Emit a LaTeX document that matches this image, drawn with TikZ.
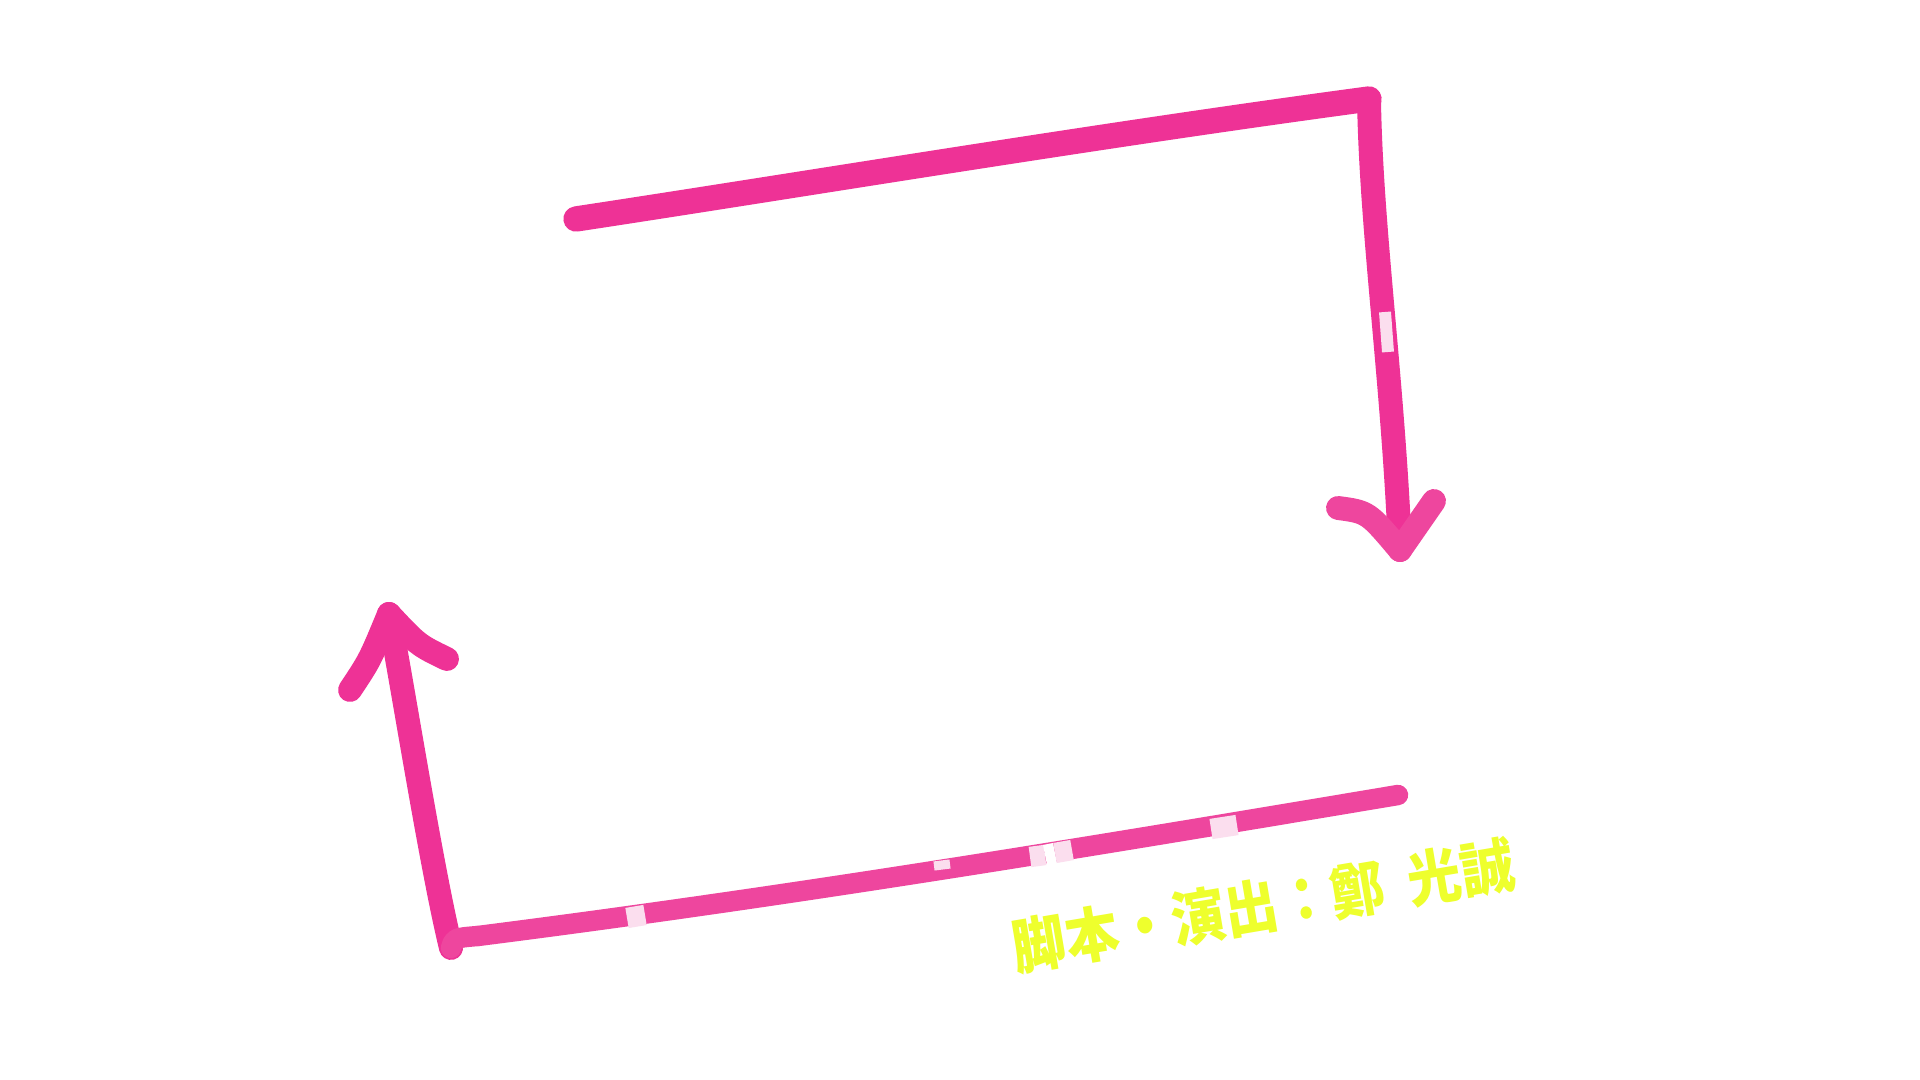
\documentclass[tikz,border=0pt]{standalone}
\usepackage{fontspec}
\newfontfamily\cjk{Noto Sans CJK JP}
\definecolor{brushpink}{RGB}{238,50,150}
\definecolor{lightbrush}{RGB}{238,70,158}
\definecolor{patchpink}{RGB}{251,222,238}
\definecolor{credityellow}{RGB}{238,255,45}
\tikzset{
  brush/.style={draw=brushpink, line width=6.8pt, line cap=round, line join=round},
  thinbrush/.style={draw=lightbrush, line width=5.8pt, line cap=round, line join=round},
  patch/.style={draw=patchpink, line width=5.8pt, line cap=butt},
  credit/.style={text=credityellow, font=\cjk\bfseries\fontsize{17}{17}\selectfont, inner sep=0pt}
}
\begin{document}
\begin{tikzpicture}[x=0.01cm, y=-0.01cm]
\useasboundingbox[fill=white] (0,0) rectangle (1920,1080);

% the corners and ends
\coordinate (topstart) at (576,219);
\coordinate (topcorner) at (1369,99);
\coordinate (downtip) at (1400,550);
\coordinate (uptip) at (389,614);
\coordinate (lowcorner) at (451,948);
\coordinate (lowend) at (1398,795);

% the upper stroke
\draw[brush, line width=7.2pt] (topstart) .. controls (800,185) and (1100,135) .. (topcorner);
\draw[brush] (topcorner) .. controls (1371,230) and (1393,380) .. (downtip);
% the arrow head going down
\draw[brush, draw=lightbrush] (1338,508) .. controls (1368,512) .. (downtip);
\draw[brush, draw=lightbrush] (downtip) -- (1434,501);

% the lower stroke
\draw[brush] (uptip) .. controls (405,700) and (432,870) .. (lowcorner);
\draw[thinbrush] (lowcorner) .. controls (454,938) .. (478,936);
\draw[thinbrush] (478,936) .. controls (800,895) and (1100,845) .. (lowend);
% the arrow head going up
\draw[brush] (350,690) .. controls (370,660) .. (uptip);
\draw[brush] (uptip) .. controls (418,645) .. (447,659);

% the faded spots
\draw[patch, line width=3.4pt] (1385,312) -- (1388,352);
\draw[patch] (627,918) -- (645,915);
\draw[patch, line width=2.6pt] (934,866) -- (950,864);
\draw[patch] (1030,857) -- (1045,855);
\draw[patch, draw=white] (1045,855) -- (1055,853);
\draw[patch] (1055,853) -- (1072,850);
\draw[patch] (1211,829) -- (1237,825);

% the credit line
\node[credit, rotate=9.6, xscale=0.9] (credit) at (1263,906)
  {脚本・演出：鄭\hspace{.45em}光誠};
\end{tikzpicture}
\end{document}
